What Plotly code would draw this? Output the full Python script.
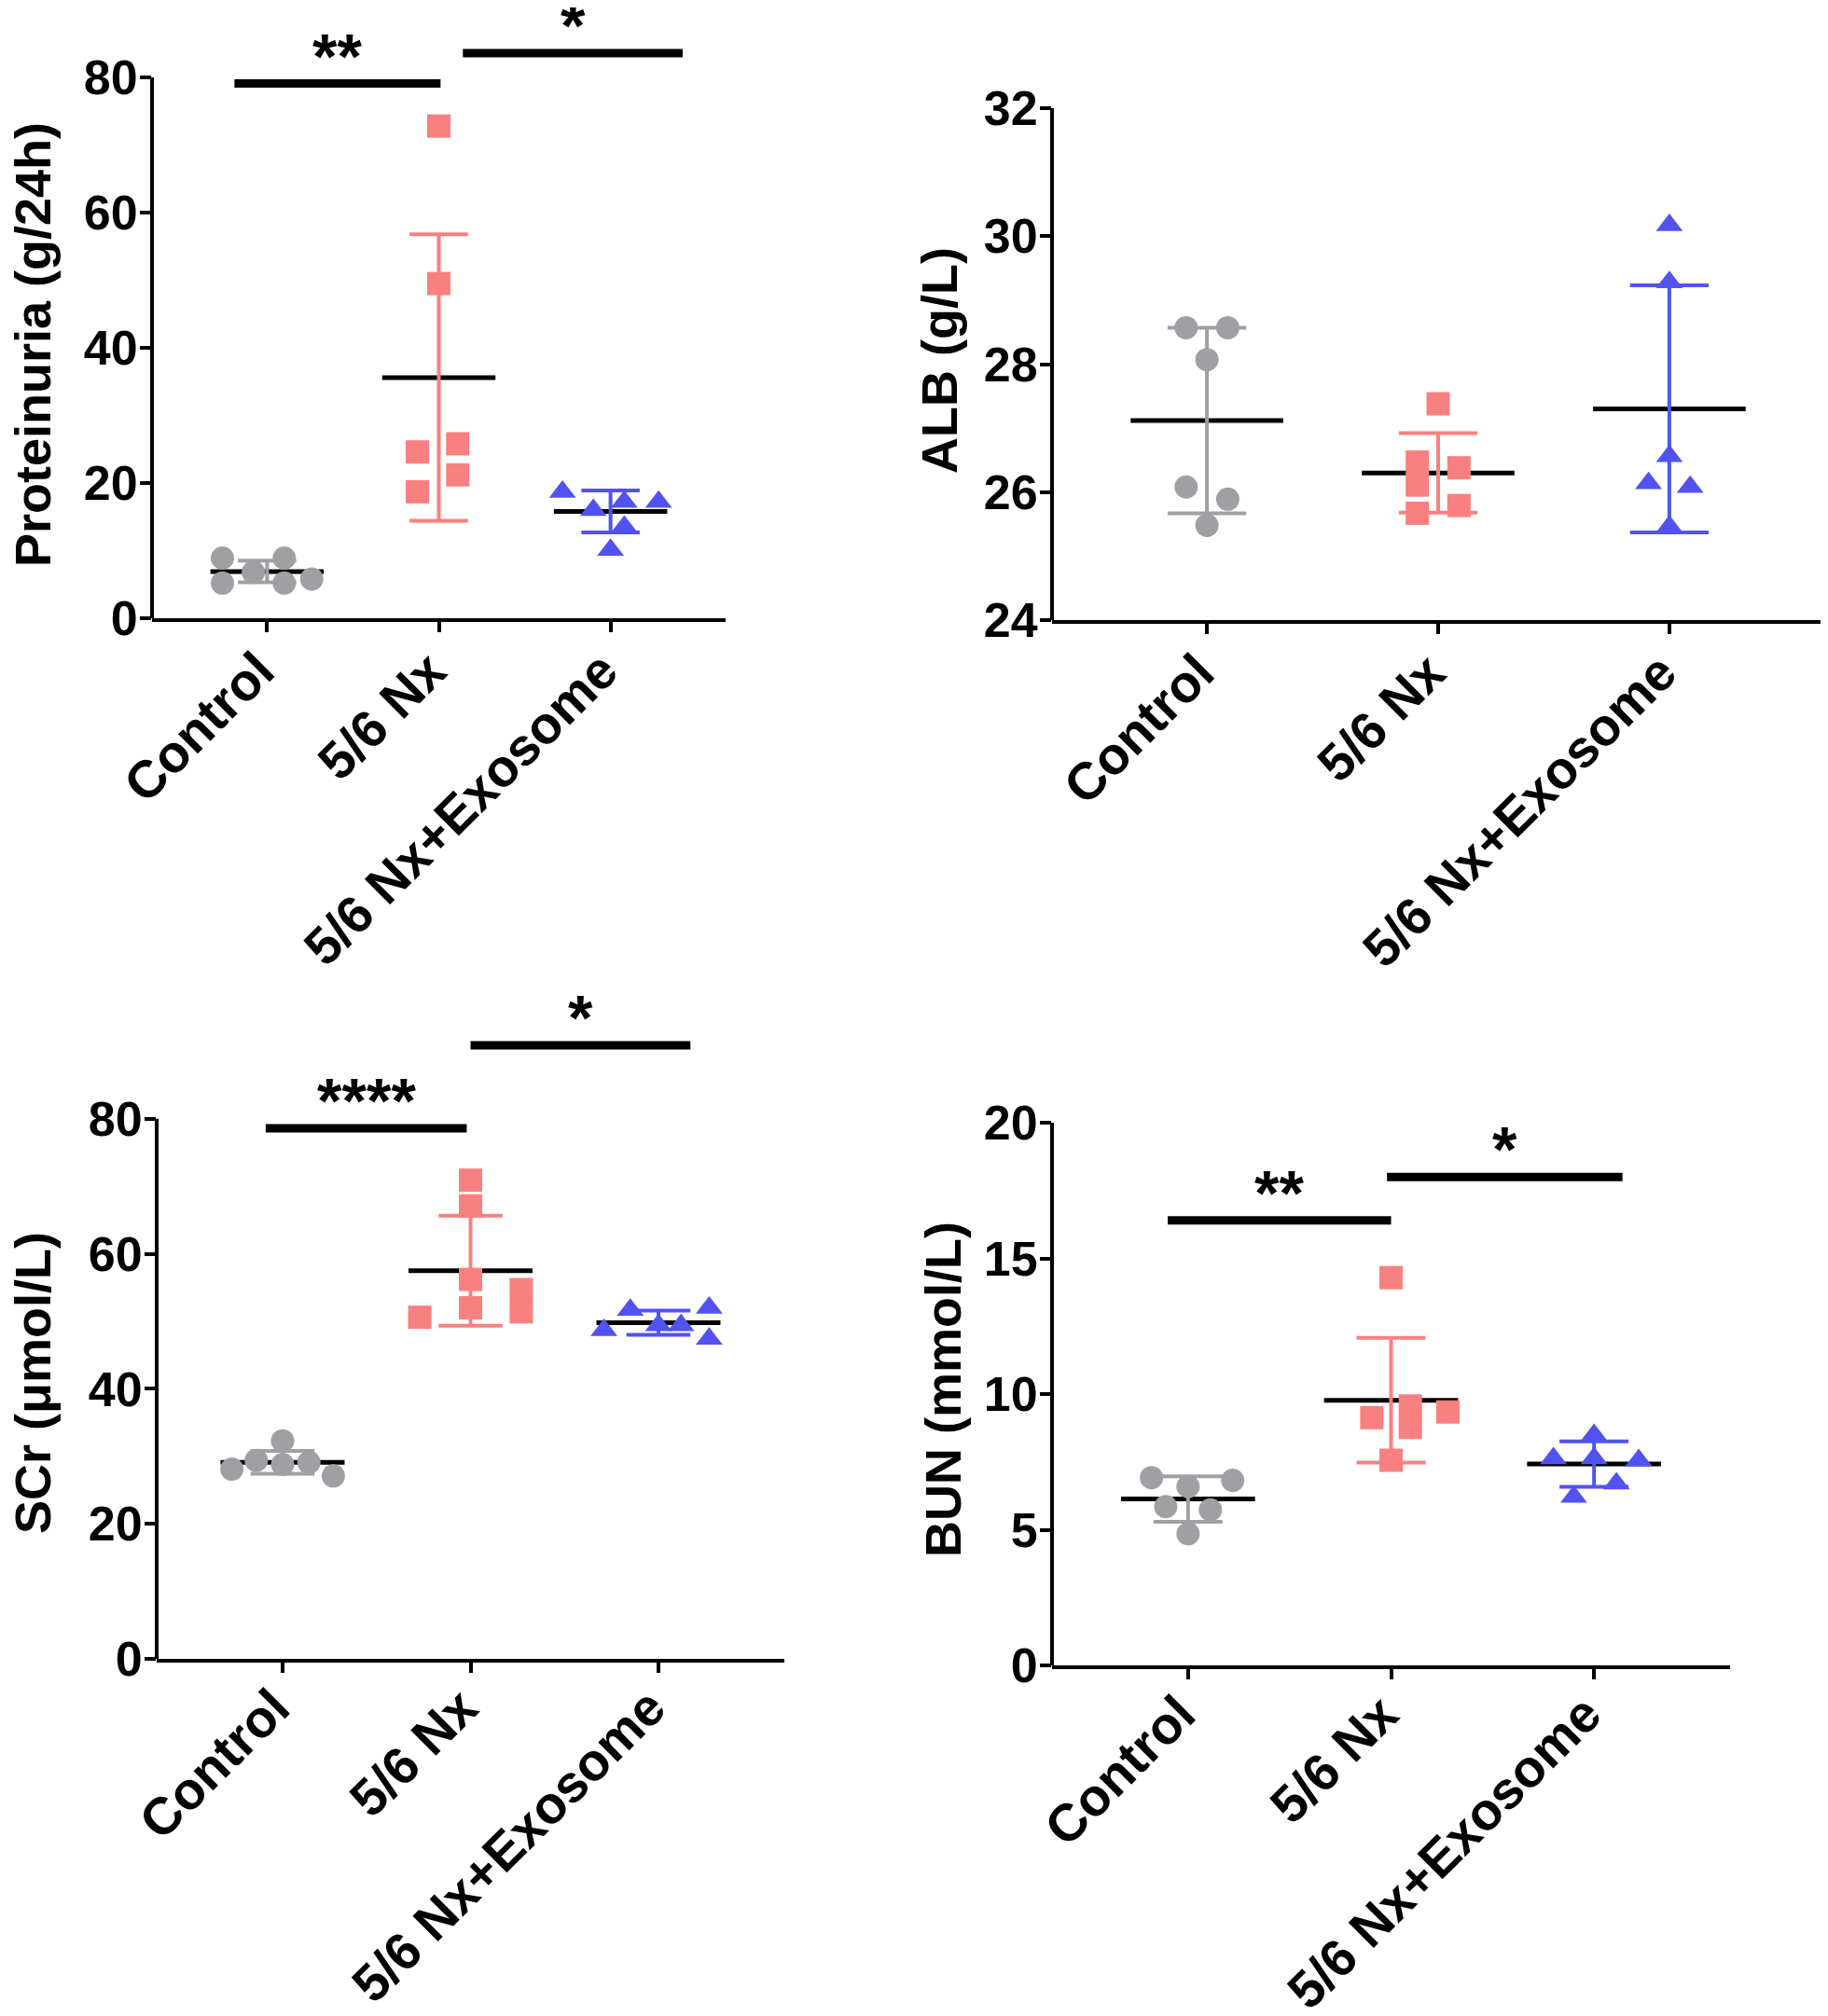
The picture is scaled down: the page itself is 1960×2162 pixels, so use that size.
import plotly.graph_objects as go

W, H = 1960, 2162
PAGE_PAD = 8  # browser body margin around the plot div

groups = ["Control", "5/6 Nx", "5/6 Nx+Exosome"]
colors = ["#a0a0a4", "#f98080", "#5252f0"]
symbols = ["circle", "square", "triangle-up"]

# Proteinuria (g/24h)
prot_ctrl = [8.9, 5.2, 6.8, 8.9, 5.2, 5.8]
prot_nx = [72.8, 49.5, 24.6, 25.8, 21.2, 18.7]
prot_exo = [18.7, 16.0, 17.2, 17.2, 13.5, 10.1]
prot_mean = [6.9, 35.6, 15.8]
prot_sd = [1.6, 21.2, 3.1]

# ALB (g/L)
alb_ctrl = [28.57, 28.57, 28.07, 26.08, 25.89, 25.48]
alb_nx = [27.38, 26.47, 26.11, 26.38, 25.79, 25.67]
alb_exo = [30.17, 29.28, 26.56, 26.14, 26.08, 25.46]
alb_mean = [27.12, 26.30, 27.30]
alb_sd = [1.45, 0.62, 1.93]

# SCr (umol/L)
scr_ctrl = [28.1, 29.4, 32.3, 28.8, 29.1, 27.1]
scr_nx = [70.9, 67.1, 56.2, 52.0, 50.6, 54.7, 51.4]
scr_exo = [48.7, 51.7, 49.4, 49.4, 52.0, 47.4]
scr_mean = [29.1, 57.5, 49.8]
scr_sd = [1.7, 8.15, 1.8]

# BUN (mmol/L)
bun_ctrl = [6.92, 6.82, 6.59, 5.85, 5.73, 4.85]
bun_nx = [14.29, 9.13, 9.56, 8.77, 9.34, 7.56]
bun_exo = [8.49, 7.63, 7.63, 7.56, 6.70, 6.21]
bun_mean = [6.13, 9.77, 7.42]
bun_sd = [0.84, 2.3, 0.84]

# significance labels
prot_sig = ["**", "*"]
prot_sig_y = [79.1, 83.6]
scr_sig = ["****", "*"]
scr_sig_y = [78.6, 90.9]
bun_sig = ["**", "*"]
bun_sig_y = [16.4, 18.0]

# horizontal scatter of the dots (layout only)
prot_jit = [[-0.26, -0.26, -0.08, 0.1, 0.1, 0.26],
            [0, 0, -0.125, 0.11, 0.11, -0.125],
            [-0.28, -0.1, 0.08, 0.28, 0.08, 0]]
alb_jit = [[-0.09, 0.09, 0, -0.09, 0.09, 0],
           [0, -0.09, -0.09, 0.09, 0.09, -0.09],
           [0, 0, 0, -0.09, 0.09, 0]]
scr_jit = [[-0.27, -0.14, 0, 0, 0.14, 0.27],
           [0, 0, 0, 0, -0.27, 0.27, 0.27],
           [-0.29, -0.15, 0, 0.12, 0.27, 0.27]]
bun_jit = [[-0.18, 0.22, 0, -0.11, 0.11, 0],
           [0, -0.095, 0.095, 0.095, 0.28, 0],
           [0, -0.2, 0, 0.22, 0.11, -0.1]]

FONT = "Liberation Sans, Arial, sans-serif"
NUMFONT = "Liberation Sans Narrow, Liberation Sans, Arial, sans-serif"


def px_dom(x0, x1, y0, y1):
    # pixel box on the page -> paper domain
    x0, x1, y0, y1 = x0 - PAGE_PAD, x1 - PAGE_PAD, y0 - PAGE_PAD, y1 - PAGE_PAD
    return [x0 / W, x1 / W], [1 - y1 / H, 1 - y0 / H]


fig = go.Figure()
shapes = []
annotations = []


def add_panel(n, data, jit, means, sds, yrange, ytop, tickvals, box, title, title_xy,
              sig=None, sig_y=None, sig_x=None, lab_standoff=-14):
    xa = "x" if n == 1 else "x%d" % n
    ya = "y" if n == 1 else "y%d" % n
    for gi in range(3):
        c = colors[gi]
        m, s = means[gi], sds[gi]
        # mean line
        fig.add_trace(go.Scatter(x=[gi - 0.33, gi + 0.33], y=[m, m], mode="lines",
                                 line=dict(color="black", width=5),
                                 xaxis=xa, yaxis=ya, showlegend=False, hoverinfo="skip"))
        # sd bar
        fig.add_trace(go.Scatter(x=[gi, gi, None, gi - 0.17, gi + 0.17, None, gi - 0.17, gi + 0.17],
                                 y=[m - s, m + s, None, m + s, m + s, None, m - s, m - s],
                                 mode="lines", line=dict(color=c, width=4),
                                 xaxis=xa, yaxis=ya, showlegend=False, hoverinfo="skip"))
        # points
        fig.add_trace(go.Scatter(x=[gi + o for o in jit[gi]], y=data[gi], mode="markers",
                                 marker=dict(color=c, symbol=symbols[gi], size=25, line_width=0),
                                 xaxis=xa, yaxis=ya, showlegend=False, cliponaxis=False))
    xd, yd = px_dom(*box)
    axis_x = dict(domain=xd, range=[-0.67, 2.67], anchor=ya, automargin=False,
                  tickmode="array", tickvals=[0, 1, 2], ticktext=groups, tickangle=-45,
                  ticks="outside", ticklen=11, tickwidth=4, tickcolor="black",
                  ticklabelshift=-9, ticklabelstandoff=lab_standoff,
                  showline=True, linewidth=4, linecolor="black", showgrid=False, zeroline=False,
                  tickfont=dict(family=FONT, size=56, color="black", weight="bold"))
    axis_y = dict(domain=yd, range=yrange, anchor=xa, automargin=False,
                  tickmode="array", tickvals=tickvals,
                  ticks="outside", ticklen=12, tickwidth=4, tickcolor="black",
                  ticklabelstandoff=-8,
                  showline=False, showgrid=False, zeroline=False,
                  tickfont=dict(family=NUMFONT, size=52, color="black", weight="bold"))
    fig.update_layout({("xaxis" if n == 1 else "xaxis%d" % n): axis_x,
                       ("yaxis" if n == 1 else "yaxis%d" % n): axis_y})
    # y axis line only up to last tick
    shapes.append(dict(type="line", xref=xa + " domain", yref=ya, x0=0, x1=0,
                       y0=yrange[0], y1=ytop, line=dict(color="black", width=4)))
    annotations.append(dict(text=title, textangle=-90, xref="paper", yref="paper",
                            x=(title_xy[0] - PAGE_PAD) / W, y=1 - (title_xy[1] - PAGE_PAD) / H,
                            showarrow=False, xanchor="center", yanchor="middle",
                            font=dict(family=FONT, size=54, color="black", weight="bold")))
    if sig:
        for lab, yv, (a, b) in zip(sig, sig_y, sig_x):
            shapes.append(dict(type="line", xref=xa, yref=ya, x0=a, x1=b, y0=yv, y1=yv,
                               line=dict(color="black", width=9)))
            annotations.append(dict(text=lab, xref=xa, yref=ya, x=(a + b) / 2, y=yv,
                                    yanchor="middle", yshift=30, showarrow=False,
                                    font=dict(family=FONT, size=68, color="black", weight="bold")))


add_panel(1, [prot_ctrl, prot_nx, prot_exo], prot_jit, prot_mean, prot_sd,
          [0, 90], 80, [0, 20, 40, 60, 80], (163, 778, 10.5, 663),
          "Proteinuria (g/24h)", (35, 370),
          prot_sig, prot_sig_y, [(-0.19, 1.01), (1.14, 2.42)])
add_panel(2, [alb_ctrl, alb_nx, alb_exo], alb_jit, alb_mean, alb_sd,
          [24, 32], 32, [24, 26, 28, 30, 32], (1128, 1956, 116, 665),
          "ALB (g/L)", (1007, 386))
add_panel(3, [scr_ctrl, scr_nx, scr_exo], scr_jit, scr_mean, scr_sd,
          [0, 100], 80, [0, 20, 40, 60, 80], (168, 841, 1055, 1779),
          "SCr (μmol/L)", (35, 1483),
          scr_sig, scr_sig_y, [(-0.09, 0.98), (1.0, 2.17)], lab_standoff=-18)
add_panel(4, [bun_ctrl, bun_nx, bun_exo], bun_jit, bun_mean, bun_sd,
          [0, 20], 20, [0, 5, 10, 15, 20], (1128, 1855, 1204, 1786),
          "BUN (mmol/L)", (1011, 1490),
          bun_sig, bun_sig_y, [(-0.1, 1.0), (0.98, 2.14)], lab_standoff=-18)

fig.update_layout(width=W, height=H, margin=dict(l=0, r=0, t=0, b=0),
                  paper_bgcolor="white", plot_bgcolor="white",
                  shapes=shapes, annotations=annotations, showlegend=False,
                  font=dict(family=FONT, color="black"))

fig.write_html("out.html")
